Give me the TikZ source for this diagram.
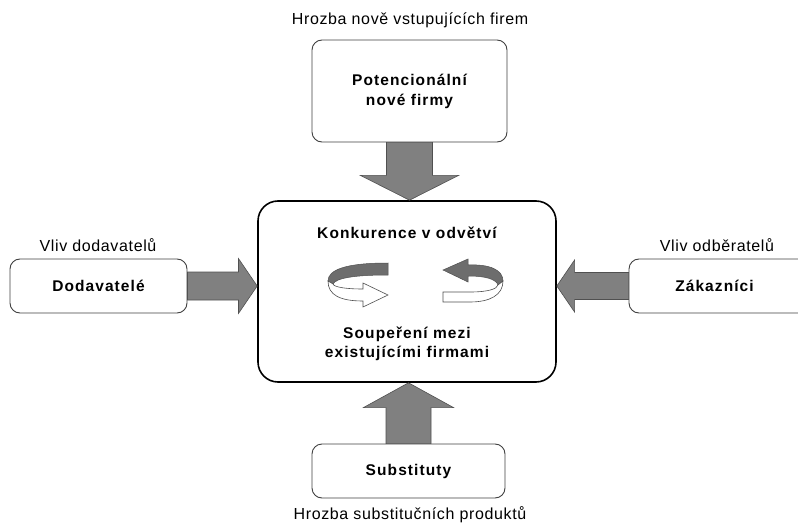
\documentclass[tikz,border=0pt]{standalone}
\usepackage{fontspec}
\setmainfont{Liberation Sans}
\newfontfamily\lblfam{Liberation Sans}[LetterSpace=4]
\newfontfamily\bldfam{Liberation Sans}[LetterSpace=7]
\usetikzlibrary{calc}
\definecolor{arrfill}{HTML}{808080}
\definecolor{arrline}{HTML}{505050}
\definecolor{boxline}{HTML}{404040}
\begin{document}
\begin{tikzpicture}[x=1pt,y=-1pt,
  smallbox/.style={draw=boxline,line width=0.9pt,rounded corners=10pt,fill=white,inner sep=0pt,font=\fontsize{15.5}{20}\bldfam\bfseries,align=center},
  corebox/.style={draw=black,line width=1.6pt,rounded corners=20pt,fill=white,inner sep=0pt},
  blockarrow/.style={fill=arrfill,draw=arrline,line width=0.6pt},
  lbl/.style={font=\fontsize{16}{19}\lblfam,inner sep=0pt},
  boldlbl/.style={font=\fontsize{15.5}{18.5}\bldfam\bfseries,inner sep=0pt,align=center},
  ribbondark/.style={fill=arrfill!85!black,draw=arrline,line width=0.5pt},
  ribbonwhite/.style={fill=white,draw=arrline,line width=0.6pt}]
\useasboundingbox (0,0) rectangle (798,524);
\clip (0,0) rectangle (798,524);
% boxes
\node[smallbox,minimum width=195pt,minimum height=102pt] (pot) at (409.5,91) {Potencionální\\nové firmy};
\node[corebox,minimum width=298pt,minimum height=181pt] (core) at (407,291.5) {};
\node[smallbox,minimum width=177pt,minimum height=54pt] (dod) at (98.5,286) {Dodavatelé};
\node[smallbox,minimum width=191pt,minimum height=54pt,text width=191pt] (zak) at (724.5,286) {\hspace*{-20pt}Zákazníci};
\node[smallbox,minimum width=193pt,minimum height=54pt] (sub) at (408.5,471) {Substituty};
% labels
\node[lbl] (lpot) at (410,20) {Hrozba nově vstupujících firem};
\node[lbl] (lsub) at (410,515) {Hrozba substitučních produktů};
\node[lbl] (ldod) at (98,245) {Vliv dodavatelů};
\node[lbl] (lzak) at (717,245) {Vliv odběratelů};
\node[boldlbl] (t1) at (407,233) {Konkurence v odvětví};
\node[boldlbl] (t2) at (407,344) {Soupeření mezi\\existujícími firmami};
% block arrows
\draw[blockarrow] ($(pot.south)+(-23,0)$) -- ($(pot.south)+(-23,33)$) -- ($(pot.south)+(-49,33)$)
  -- (pot.south |- core.north) -- ($(pot.south)+(49,33)$) -- ($(pot.south)+(23,33)$) -- ($(pot.south)+(23,0)$) -- cycle;
\draw[blockarrow] ($(sub.north)+(-22.5,0)$) -- ($(sub.north)+(-22.5,-36)$) -- ($(sub.north)+(-45,-36)$)
  -- (sub.north |- core.south) -- ($(sub.north)+(45,-36)$) -- ($(sub.north)+(22.5,-36)$) -- ($(sub.north)+(22.5,0)$) -- cycle;
\draw[blockarrow] ($(dod.east)+(0,-14)$) -- ($(dod.east)+(51,-14)$) -- ($(dod.east)+(51,-27.5)$)
  -- (core.west |- dod.east) -- ($(dod.east)+(51,27.5)$) -- ($(dod.east)+(51,14)$) -- ($(dod.east)+(0,14)$) -- cycle;
\draw[blockarrow] ($(zak.west)+(0,-13.5)$) -- ($(zak.west)+(-54,-13.5)$) -- ($(zak.west)+(-54,-26)$)
  -- (core.east |- zak.west) -- ($(zak.west)+(-54,26)$) -- ($(zak.west)+(-54,13.5)$) -- ($(zak.west)+(0,13.5)$) -- cycle;
% circular arrows (left)
\draw[ribbondark] (388,263) .. controls (345,263) and (328,270) .. (328,281) -- (333,284)
  .. controls (336,278) and (355,275) .. (388,275) -- cycle;
\draw[ribbonwhite] (328,281) .. controls (328,295) and (340,301) .. (363,301) -- (363,307) -- (388,295)
  -- (363,283) -- (363,289) .. controls (345,289) and (334,287) .. (333,284) -- cycle;
% circular arrows (right)
\draw[ribbondark] (443,270) -- (468,259) -- (468,265) .. controls (490,264) and (503,270) .. (503,281)
  -- (498,285) .. controls (496,279) and (485,276) .. (468,276) -- (468,282) -- cycle;
\draw[ribbonwhite] (503,281) .. controls (503,295) and (490,302) .. (470,302) -- (443,302) -- (443,292)
  -- (470,292) .. controls (488,292) and (497,289) .. (498,285) -- cycle;
\end{tikzpicture}
\end{document}
